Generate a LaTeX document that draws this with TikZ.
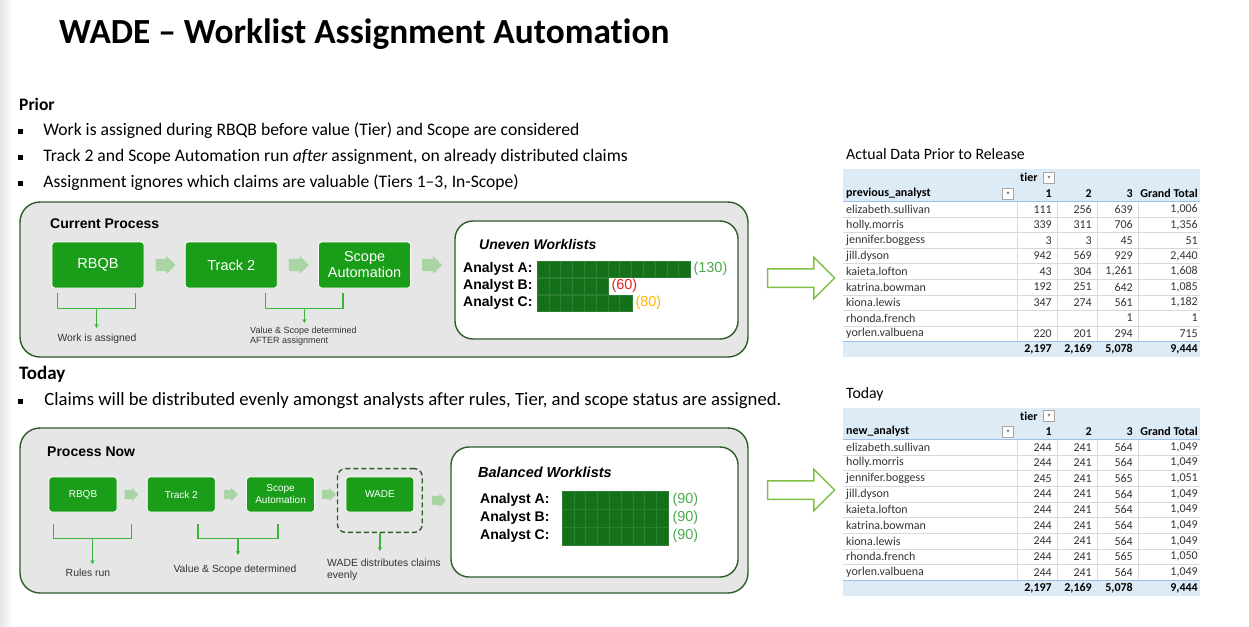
\documentclass[tikz,border=0pt]{standalone}
\usepackage{fontspec}
\setmainfont{Carlito}[Ligatures=NoCommon]
\newfontfamily\aptos{Liberation Sans}
\newfontfamily\symfont{DejaVu Sans}
\usetikzlibrary{arrows.meta, positioning, shapes.arrows, fit, calc}
\definecolor{wadegreen}{HTML}{1A9E1A}
\definecolor{wadedark}{HTML}{2F5D2A}
\definecolor{wadegrey}{HTML}{E6E6E6}
\definecolor{wadechev}{HTML}{A9D4A3}
\definecolor{wadebright}{HTML}{3CB43C}
\definecolor{wadebar}{HTML}{15701A}
\definecolor{wadelime}{HTML}{7DC142}
\definecolor{wadered}{HTML}{E42222}
\definecolor{wadegold}{HTML}{FFB800}
\definecolor{wademid}{HTML}{4FAA4F}
\definecolor{xlhead}{HTML}{DDEBF7}
\definecolor{xlrule}{HTML}{9BC2E6}
\definecolor{xlgrid}{HTML}{D9D9D9}
\newcommand\fsz[2]{\fontsize{#1}{#2}\selectfont}
\tikzset{
  panel/.style={draw=wadedark, fill=wadegrey, line width=1.4pt, rounded corners=20pt},
  listbox/.style={draw=wadedark, fill=white, line width=1.4pt, rounded corners=18pt},
  stepbox/.style={rectangle, rounded corners=3pt, fill=wadegreen, draw=white, line width=0.8pt,
                  text=white, align=center, inner sep=0pt, font=\aptos\fsz{14.5}{16}},
  stepsm/.style={stepbox, minimum width=68pt, minimum height=35pt, font=\aptos\fsz{10}{12}},
  dashbox/.style={draw=wadedark, dash pattern=on 5pt off 3pt, line width=1.4pt, rounded corners=8pt},
  chev/.style={single arrow, fill=wadechev, inner xsep=0pt, inner ysep=6pt, minimum height=20pt,
               single arrow head extend=3pt},
  chevsm/.style={chev, inner ysep=4.5pt, minimum height=14pt, single arrow head extend=2pt},
  bigarrow/.style={single arrow, draw=wadelime, fill=white, line width=1.5pt, inner xsep=0pt,
                   inner ysep=8.5pt, minimum height=67pt, single arrow head extend=11.5pt},
  brace/.style={draw=wadebright, line width=1.5pt},
  drop/.style={brace, -{Stealth[length=4pt, width=4.5pt]}},
  note/.style={font=\aptos\fsz{10.4}{11.5}, text=black!80, align=left, inner sep=0pt},
  panelhead/.style={font=\aptos\bfseries\fsz{14}{16}, inner sep=0pt, anchor=west},
  listhead/.style={font=\aptos\bfseries\itshape\fsz{14}{16}, inner sep=0pt, anchor=west},
  who/.style={font=\aptos\bfseries\fsz{14}{16}, inner sep=0pt, anchor=west},
  bar/.style={fill=wadebar, draw=wadebar!90!white, line width=0.3pt, minimum height=16.5pt, inner sep=0pt, anchor=west},
  seg/.style={draw=wadebar!88!white, line width=0.5pt},
  tally/.style={font=\aptos\fsz{14.5}{16}, inner sep=0pt},
  bullet/.style={fill=black, minimum size=5pt, inner sep=0pt},
  bulline/.style={font=\fsz{17.6}{20}, inner sep=0pt, anchor=west},
  cell/.style={font=\fsz{12}{14}, text=black!80, inner sep=0pt},
  cellb/.style={cell, font=\bfseries\fsz{12}{14}, text=black},
  filt/.style={draw=black!35, fill=white, minimum size=11pt, inner sep=0pt, font=\symfont\fsz{6}{6}, text=black!50},
  xlgridline/.style={draw=xlgrid, line width=0.6pt},
  xlline/.style={draw=xlrule, line width=1pt},
}

\begin{document}
\begin{tikzpicture}[x=1pt, y=-1pt]
  \useasboundingbox (0,0) rectangle (1249,626);
  \shade[left color=black!10, right color=white] (0,0) rectangle (12,626);

  \node[anchor=west, inner sep=0pt, font=\bfseries\fsz{35.3}{42}] (title) at (59,34) {WADE – Worklist Assignment Automation};

  \node[bulline, font=\bfseries\fsz{17.5}{20}] (prior) at (19,104) {Prior};
  \node[bullet] (pb1) at (20.5,131) {};
  \node[bullet] (pb2) at (20.5,157) {};
  \node[bullet] (pb3) at (20.5,183) {};
  \node[bulline, right=20pt of pb1] (pt1) {Work is assigned during RBQB before value (Tier) and Scope are considered};
  \node[bulline, right=20pt of pb2] (pt2) {Track 2 and Scope Automation run \textit{after} assignment, on already distributed claims};
  \node[bulline, right=20pt of pb3] (pt3) {Assignment ignores which claims are valuable (Tiers 1–3, In-Scope)};

  % current process
  \draw[panel] (20,202) rectangle (748,357);
  \node[panelhead] (curhead) at (50,224) {Current Process};
  \node[stepbox, minimum width=92pt, minimum height=46pt] (rbqb) at (98,265) {RBQB};
  \node[chev, right=11pt of rbqb] (chA) {};
  \node[stepbox, minimum width=92pt, minimum height=46pt, right=9pt of chA] (track) {Track 2};
  \node[chev, right=11pt of track] (chB) {};
  \node[stepbox, minimum width=92pt, minimum height=46pt, right=9pt of chB] (scope) {Scope\\Automation};
  \node[chev, right=11pt of scope] (chC) {};

  \coordinate (bkA1) at ([xshift=6pt,yshift=-5pt]rbqb.south west);
  \coordinate (bkA2) at ([xshift=-9pt,yshift=-5pt]rbqb.south east);
  \draw[brace] (bkA1) -- ++(0,15) -| (bkA2);
  \coordinate (bkAm) at ($(bkA1)!0.5!(bkA2)+(0,15)$);
  \node[note] (noteA) at (97,339) {Work is assigned};
  \draw[drop] (bkAm) -- ([yshift=6pt]bkAm |- noteA.north);

  \coordinate (bkB1) at ([xshift=-12pt,yshift=-5pt]track.south east);
  \coordinate (bkB2) at ([xshift=25pt,yshift=-5pt]scope.south west);
  \draw[brace] (bkB1) -- ++(0,15) -| (bkB2);
  \coordinate (bkBm) at ($(bkB1)!0.5!(bkB2)+(0,15)$);
  \node[note, font=\aptos\fsz{9}{10}, anchor=north west] (noteB) at (250,327) {Value \& Scope determined\\AFTER assignment};
  \draw[drop] (bkBm) -- ([yshift=4pt]bkBm |- noteB.north);

  \draw[listbox] (455,221) rectangle (738,339);
  \node[listhead] (unevenhead) at (479,244) {Uneven Worklists};
  \node[who] (ua) at (463,269) {Analyst A:};
  \node[who] (ub) at (463,286) {Analyst B:};
  \node[who] (uc) at (463,303) {Analyst C:};
  \node[bar, minimum width=153pt] (barua) at (537,269) {};
  \node[bar, minimum width=71pt] (barub) at (537,286) {};
  \node[bar, minimum width=95pt] (baruc) at (537,303) {};
  \foreach \b/\n in {barua/12, barub/5, baruc/7}
    \foreach \k in {1,...,\n}
      \draw[seg] ([xshift=\k*11.8pt]\b.north west) -- ([xshift=\k*11.8pt]\b.south west);
  \node[tally, text=wademid, right=3pt of barua] (nua) {(130)};
  \node[tally, text=wadered, right=3pt of barub] (nub) {(60)};
  \node[tally, text=wadegold, right=3pt of baruc] (nuc) {(80)};

  \node[bigarrow] (toprel) at (796.5,278) {};

  % today
  \node[bulline, font=\bfseries\fsz{19}{21}] (today) at (19,374) {Today};
  \node[bullet] (tb1) at (20.5,401) {};
  \node[bulline, font=\fsz{18.7}{21}, right=21pt of tb1] (tt1) {Claims will be distributed evenly amongst analysts after rules, Tier, and scope status are assigned.};

  \draw[panel] (20,428) rectangle (748,593);
  \node[panelhead] (nowhead) at (47,452) {Process Now};
  \node[stepsm] (rbqbn) at (83,494.5) {RBQB};
  \node[chevsm, right=7pt of rbqbn] (chD) {};
  \node[stepsm, right=8pt of chD] (trackn) {Track 2};
  \node[chevsm, right=8pt of trackn] (chE) {};
  \node[stepsm, right=8pt of chE] (scopen) {Scope\\Automation};
  \node[chevsm, right=7pt of scopen] (chF) {};
  \node[stepsm, right=9pt of chF] (wade) {WADE};
  \coordinate (wadelow) at ([yshift=-12pt]wade.south);
  \node[dashbox, fit=(wade) (wadelow), inner sep=8pt] (wadefit) {};
  \node[chevsm, right=9pt of wadefit] (chG) {};

  \coordinate (bkD1) at ([xshift=5pt,yshift=-12pt]rbqbn.south west);
  \coordinate (bkD2) at ([xshift=14pt,yshift=-12pt]rbqbn.south east);
  \draw[brace] (bkD1) -- ++(0,14) -| (bkD2);
  \coordinate (bkDm) at ($(bkD1)!0.5!(bkD2)+(0,14)$);
  \node[note] (noteD) at (88,573) {Rules run};
  \draw[drop] (bkDm) -- ([yshift=5pt]bkDm |- noteD.north);

  \coordinate (bkE1) at ([xshift=51pt,yshift=-12pt]trackn.south west);
  \coordinate (bkE2) at ([xshift=-37pt,yshift=-12pt]scopen.south east);
  \draw[brace] (bkE1) -- ++(0,14) -| (bkE2);
  \coordinate (bkEm) at ($(bkE1)!0.5!(bkE2)+(0,14)$);
  \node[note] (noteE) at (235,570) {Value \& Scope determined};
  \draw[drop] (bkEm) -- ([yshift=10pt]bkEm |- noteE.north);

  \node[note, anchor=north west] (noteF) at (327,559) {WADE distributes claims\\evenly};
  \draw[drop] (wadefit.south) -- ([yshift=8pt]wadefit.south |- noteF.north);

  \draw[listbox] (451,447) rectangle (738,577);
  \node[listhead, font=\aptos\bfseries\itshape\fsz{14.5}{16}] (balhead) at (478,472) {Balanced Worklists};
  \node[who] (ba) at (480,500) {Analyst A:};
  \node[who] (bb) at (480,518) {Analyst B:};
  \node[who] (bc) at (480,536) {Analyst C:};
  \node[bar, minimum width=106pt, minimum height=18pt] (barba) at (562,500) {};
  \node[bar, minimum width=106pt, minimum height=18pt] (barbb) at (562,518) {};
  \node[bar, minimum width=106pt, minimum height=18pt] (barbc) at (562,536) {};
  \foreach \b in {barba, barbb, barbc}
    \foreach \k in {1,...,8}
      \draw[seg] ([xshift=\k*11.8pt]\b.north west) -- ([xshift=\k*11.8pt]\b.south west);
  \node[tally, text=wademid, right=4pt of barba] (nba) {(90)};
  \node[tally, text=wademid, right=4pt of barbb] (nbb) {(90)};
  \node[tally, text=wademid, right=4pt of barbc] (nbc) {(90)};

  \node[bigarrow] (botrel) at (796.5,490) {};

  % prior table
  \node[anchor=west, inner sep=0pt, font=\fsz{15.8}{18}] (prevtitle) at (846,154) {Actual Data Prior to Release};
  \fill[xlhead] (843,169) rectangle (1200,201.5);
  \fill[xlhead] (843,341.5) rectangle (1200,357);
  \foreach \xx in {1017,1057,1097,1138}
    \draw[xlgridline] (\xx,201.5) -- (\xx,341.5);
  \node[cellb, anchor=west] (prevtier) at (1020,177.5) {tier};
  \node[filt] (prevtierf) at (1049,177.5) {▾};
  \node[cellb, anchor=west] (prevhead) at (846,193.5) {previous\_analyst};
  \node[filt] (prevheadf) at (1008,193.5) {▾};
  \node[cellb, anchor=east] (prevc1) at (1052,193.5) {1};
  \node[cellb, anchor=east] (prevc2) at (1092,193.5) {2};
  \node[cellb, anchor=east] (prevc3) at (1133,193.5) {3};
  \node[cellb, anchor=east] (prevgt) at (1198,193.5) {Grand Total};
  \foreach \nm/\a/\b/\c/\g [count=\i] in {elizabeth.sullivan/111/256/639/{1,006},
      holly.morris/339/311/706/{1,356}, jennifer.boggess/3/3/45/51, jill.dyson/942/569/929/{2,440},
      kaieta.lofton/43/304/{1,261}/{1,608}, katrina.bowman/192/251/642/{1,085},
      kiona.lewis/347/274/561/{1,182}, rhonda.french///1/1, yorlen.valbuena/220/201/294/715} {
    \pgfmathsetmacro\yy{201.5+(\i-0.5)*15.55}
    \node[cell, anchor=west] (prevn\i) at (846,\yy) {\nm};
    \node[cell, anchor=east] (preva\i) at (1052,\yy) {\a};
    \node[cell, anchor=east] (prevb\i) at (1092,\yy) {\b};
    \node[cell, anchor=east] (prevd\i) at (1133,\yy) {\c};
    \node[cell, anchor=east] (prevg\i) at (1198,\yy) {\g};
    \ifnum\i<9 \draw[xlgridline] (843,{201.5+\i*15.55}) -- (1200,{201.5+\i*15.55}); \fi
  }
  \draw[xlline] (843,201.5) -- (1200,201.5);
  \draw[xlline] (843,341.5) -- (1200,341.5);
  \node[cellb, anchor=east] (prevt1) at (1052,349.5) {2,197};
  \node[cellb, anchor=east] (prevt2) at (1092,349.5) {2,169};
  \node[cellb, anchor=east] (prevt3) at (1133,349.5) {5,078};
  \node[cellb, anchor=east] (prevtg) at (1198,349.5) {9,444};

  % today table
  \node[anchor=west, inner sep=0pt, font=\fsz{15.8}{18}] (newtitle) at (846,394) {Today};
  \fill[xlhead] (843,408) rectangle (1200,439.3);
  \fill[xlhead] (843,580.2) rectangle (1200,596);
  \foreach \xx in {1017,1057,1097,1138}
    \draw[xlgridline] (\xx,439.3) -- (\xx,580.2);
  \node[cellb, anchor=west] (newtier) at (1020,416) {tier};
  \node[filt] (newtierf) at (1049,416) {▾};
  \node[cellb, anchor=west] (newhead) at (846,431.5) {new\_analyst};
  \node[filt] (newheadf) at (1008,431.5) {▾};
  \node[cellb, anchor=east] (newc1) at (1052,431.5) {1};
  \node[cellb, anchor=east] (newc2) at (1092,431.5) {2};
  \node[cellb, anchor=east] (newc3) at (1133,431.5) {3};
  \node[cellb, anchor=east] (newgt) at (1198,431.5) {Grand Total};
  \foreach \nm/\a/\b/\c/\g [count=\i] in {elizabeth.sullivan/244/241/564/{1,049},
      holly.morris/244/241/564/{1,049}, jennifer.boggess/245/241/565/{1,051}, jill.dyson/244/241/564/{1,049},
      kaieta.lofton/244/241/564/{1,049}, katrina.bowman/244/241/564/{1,049},
      kiona.lewis/244/241/564/{1,049}, rhonda.french/244/241/565/{1,050}, yorlen.valbuena/244/241/564/{1,049}} {
    \pgfmathsetmacro\yy{439.3+(\i-0.5)*15.65}
    \node[cell, anchor=west] (newn\i) at (846,\yy) {\nm};
    \node[cell, anchor=east] (newa\i) at (1052,\yy) {\a};
    \node[cell, anchor=east] (newb\i) at (1092,\yy) {\b};
    \node[cell, anchor=east] (newd\i) at (1133,\yy) {\c};
    \node[cell, anchor=east] (newg\i) at (1198,\yy) {\g};
    \ifnum\i<9 \draw[xlgridline] (843,{439.3+\i*15.65}) -- (1200,{439.3+\i*15.65}); \fi
  }
  \draw[xlline] (843,439.3) -- (1200,439.3);
  \draw[xlline] (843,580.2) -- (1200,580.2);
  \node[cellb, anchor=east] (newt1) at (1052,588) {2,197};
  \node[cellb, anchor=east] (newt2) at (1092,588) {2,169};
  \node[cellb, anchor=east] (newt3) at (1133,588) {5,078};
  \node[cellb, anchor=east] (newtg) at (1198,588) {9,444};
\end{tikzpicture}
\end{document}
